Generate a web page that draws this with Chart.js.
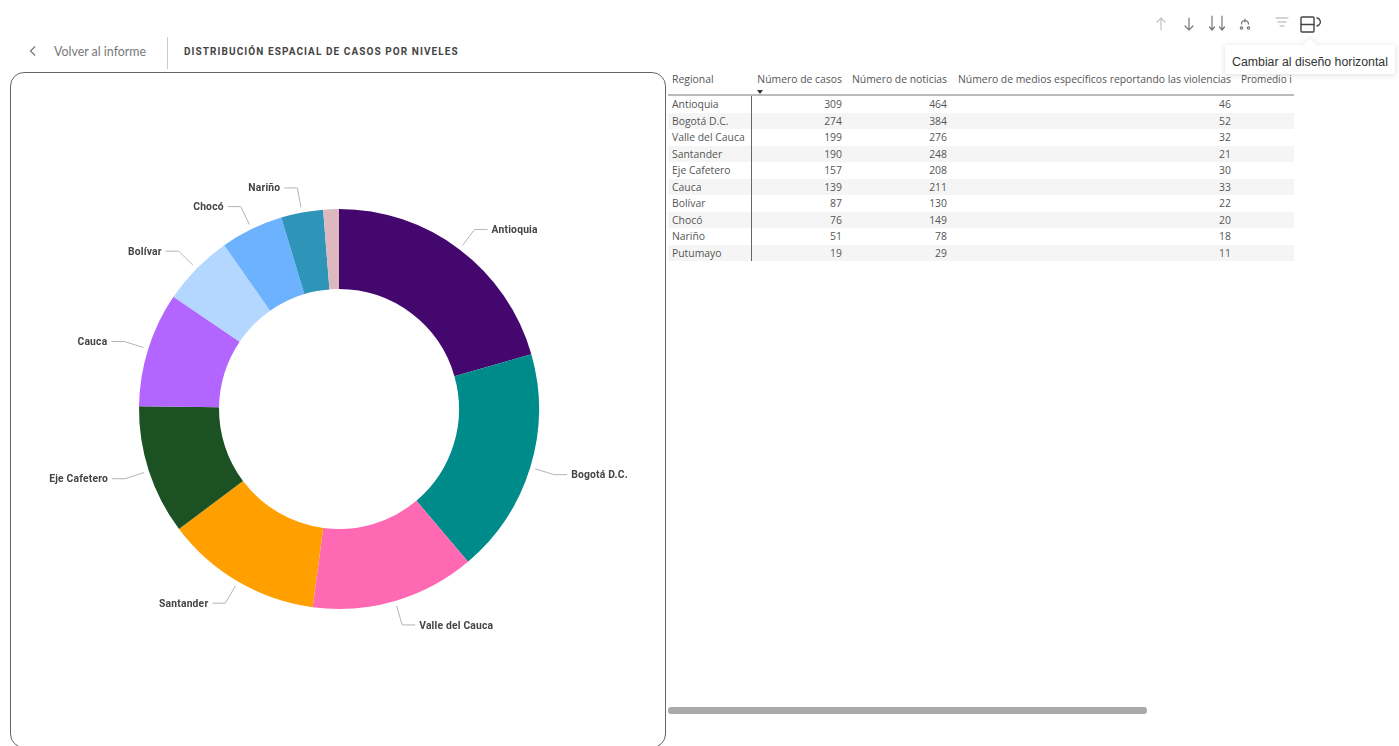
<!DOCTYPE html>
<html lang="es">
<head>
<meta charset="utf-8">
<title>Distribución espacial de casos por niveles</title>
<script src="https://cdn.jsdelivr.net/npm/chart.js@4"></script>
<style>
  html, body { margin: 0; width: 1399px; height: 746px; overflow: hidden; background: #fff; }
  body { position: relative; font-family: "Open Sans", sans-serif; color: #333; }

  /* top bar */
  .chevron { position: absolute; left: 27px; top: 44px; }
  .back { position: absolute; left: 54px; top: 44px; font: 12.4px Lato, sans-serif; color: #777; }
  .divider { position: absolute; left: 167px; top: 37px; width: 1px; height: 32px; background: #ccc; }
  .title { position: absolute; left: 184px; top: 46px; font: 700 10px Roboto, sans-serif; letter-spacing: 1.08px; color: #444; }

  /* donut card */
  .card { position: absolute; left: 10px; top: 72px; width: 656px; height: 676px; border: 1.5px solid #666; border-radius: 14px; box-sizing: border-box; }
  #donut { position: absolute; left: 12px; top: 73px; }

  /* detail table */
  .grid { position: absolute; left: 668px; top: 72px; width: 626px; border-collapse: collapse; table-layout: fixed; font-size: 10.4px; color: #555; }
  .grid th { height: 22px; padding: 0 5px 0 0; font-weight: 400; text-align: right; white-space: nowrap; overflow: hidden; border-bottom: 2px solid #bbb; vertical-align: top; line-height: 14px; position: relative; }
  .grid th:first-child, .grid td:first-child { text-align: left; padding-left: 4px; }
  .grid td:first-child { border-right: 1px solid #666; }
  .grid td { height: 16.5px; padding: 0 5px 0 0; text-align: right; white-space: nowrap; line-height: 1; }
  .grid tbody tr:nth-child(even) td { background: #f5f5f5; }
  .grid th.cut { text-align: left; padding-left: 5px; font-size: 10px; }
  .sort { position: absolute; left: 6px; bottom: 0; width: 0; height: 0; border-left: 3px solid transparent; border-right: 3px solid transparent; border-top: 4px solid #333; }
  .scrollbar { position: absolute; left: 668px; top: 707px; width: 479px; height: 7px; border-radius: 3px; background: #aaa; }

  /* visual header */
  .icons { position: absolute; left: 1150px; top: 10px; }
  .tip { position: absolute; left: 1225px; top: 45px; width: 170px; height: 29px; text-align: center; background: #fff; font: 12.3px/35px "Liberation Sans", sans-serif; color: #333; box-shadow: 0 1px 6px rgba(0,0,0,.14); white-space: nowrap; }
  .tip::before { content: ""; position: absolute; left: 80px; top: -5px; width: 10px; height: 10px; background: #fff; transform: rotate(45deg); box-shadow: -1px -1px 3px rgba(0,0,0,.07); }
  .tip span { position: relative; }
</style>
</head>
<body>
  <svg class="chevron" width="12" height="14" fill="none" stroke="#777" stroke-width="1.2"><path d="M8 2.5 3.5 7 8 11.5"/></svg>
  <div class="back">Volver al informe</div>
  <div class="divider"></div>
  <div class="title">DISTRIBUCIÓN ESPACIAL DE CASOS POR NIVELES</div>

  <div class="card"></div>
  <canvas id="donut" width="654" height="672"></canvas>

  <table class="grid" id="grid"></table>
  <div class="scrollbar"></div>

  <svg class="icons" width="180" height="30" fill="none" stroke-linecap="round">
    <g stroke="#c4c4c4" stroke-width="1.2"><path d="M11 20V8M7 12l4-4 4 4"/></g>
    <g stroke="#777" stroke-width="1.2">
      <path d="M39 8v12M35 16l4 4 4-4"/>
      <path d="M62 6v14M72 6v14M59.5 17l2.5 3 2.5-3M69.5 17l2.5 3 2.5-3"/>
      <path d="M91.500 14a3.500 3.500 0 0 1 7 0M95 9v3"/>
      <circle cx="91.500" cy="18" r="1.200"/><circle cx="98.500" cy="18" r="1.200"/>
    </g>
    <g stroke="#aaa" stroke-width="1.1"><path d="M126 8h12M128 12h8M130 16h4"/></g>
    <g stroke="#444" stroke-width="1.4">
      <rect x="151" y="7" width="13" height="15" rx="1"/>
      <path d="M151 14.500h13M167 8a4 4 0 0 1 2 7l-2 1"/>
    </g>
  </svg>
  <div class="tip"><span>Cambiar al diseño horizontal</span></div>

<script>
/* ------------------- DATA ------------------- */
const REGIONS = ["Antioquia", "Bogotá D.C.", "Valle del Cauca", "Santander", "Eje Cafetero", "Cauca", "Bolívar", "Chocó", "Nariño", "Putumayo"];
const CASES = [309, 274, 199, 190, 157, 139, 87, 76, 51, 19];
const NEWS = [464, 384, 276, 248, 208, 211, 130, 149, 78, 29];
const OUTLETS = [46, 52, 32, 21, 30, 33, 22, 20, 18, 11];
const COLUMNS = ["Regional", "Número de casos", "Número de noticias", "Número de medios específicos reportando las violencias", "Promedio i"];
const COLORS = ["#44076E", "#008B8B", "#FF69B4", "#FFA000", "#1B5123", "#B266FF", "#B3D7FF", "#6CB2FF", "#2E95B9", "#DDB8BE"];

/* ------------------- Table ------------------- */
function renderTable() {
  const widths = [83, 96, 105, 284, 58];
  const cols = widths.map(w => `<col style="width:${w}px">`).join("");
  const head = COLUMNS.map((c, i) => {
    if (i === 1) return `<th>${c}<span class="sort"></span></th>`;
    return `<th${i === 4 ? ' class="cut"' : ''}>${c}</th>`;
  }).join("");
  const rows = REGIONS.map((r, i) =>
    `<tr><td>${r}</td><td>${CASES[i]}</td><td>${NEWS[i]}</td><td>${OUTLETS[i]}</td><td></td></tr>`
  ).join("");
  document.getElementById("grid").innerHTML = `<colgroup>${cols}</colgroup><thead><tr>${head}</tr></thead><tbody>${rows}</tbody>`;
}

/* ------------------- Leader lines ------------------- */
const leaderLabels = {
  id: "leaderLabels",
  afterDatasetsDraw(chart) {
    const { ctx } = chart;
    const arcs = chart.getDatasetMeta(0).data;
    ctx.save();
    ctx.font = "700 10.3px Roboto, sans-serif";
    ctx.letterSpacing = "0.2px";
    ctx.textBaseline = "middle";
    arcs.forEach((arc, i) => {
      // the smallest slice carries no label
      if (i === arcs.length - 1) return;
      const mid = (arc.startAngle + arc.endAngle) / 2;
      const start = arc.outerRadius + 5;
      const elbow = arc.outerRadius + 25;
      const x1 = arc.x + Math.cos(mid) * start;
      const y1 = arc.y + Math.sin(mid) * start;
      const x2 = arc.x + Math.cos(mid) * elbow;
      const y2 = arc.y + Math.sin(mid) * elbow;
      const right = Math.cos(mid) >= 0;
      const x3 = x2 + (right ? 13 : -13);

      ctx.strokeStyle = "#b5b5b5";
      ctx.lineWidth = 1;
      ctx.beginPath();
      ctx.moveTo(x1, y1);
      ctx.lineTo(x2, y2);
      ctx.lineTo(x3, y2);
      ctx.stroke();

      ctx.fillStyle = "#444";
      ctx.textAlign = right ? "left" : "right";
      ctx.fillText(REGIONS[i], x3 + (right ? 4 : -4), y2 + 1);
    });
    ctx.restore();
  }
};

/* ------------------- Donut ------------------- */
function renderDonut() {
  new Chart(document.getElementById("donut"), {
    type: "doughnut",
    data: {
      labels: REGIONS,
      datasets: [{
        data: CASES,
        backgroundColor: COLORS,
        borderWidth: 0
      }]
    },
    options: {
      responsive: false,
      animation: false,
      radius: 200,
      cutout: "60%",
      plugins: { legend: { display: false }, tooltip: { enabled: false } }
    },
    plugins: [leaderLabels]
  });
}

renderTable();
renderDonut();
</script>
</body>
</html>
